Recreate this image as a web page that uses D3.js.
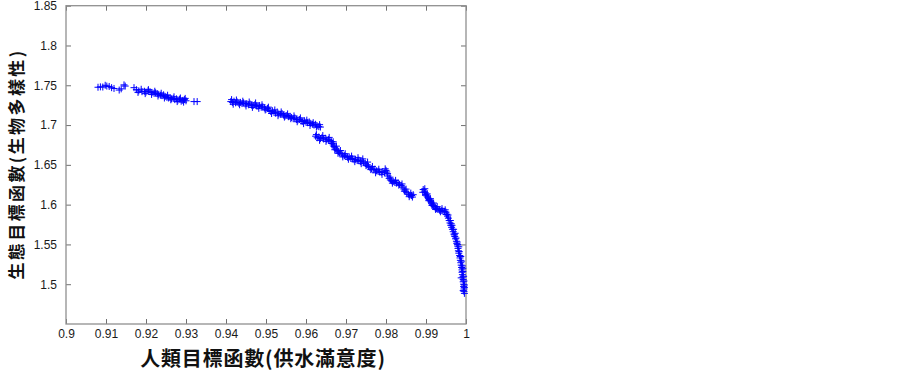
<!DOCTYPE html>
<html>
<head>
<meta charset="utf-8">
<script src="https://cdn.jsdelivr.net/npm/d3@7"></script>
<style>
  body { margin: 0; background: #fff; }
  .tick text { font-family: "Liberation Sans", Arial, sans-serif; font-size: 12px; fill: #1a1a1a; }
  .tick line { stroke: #707070; }
  .title { font-family: "Noto Sans CJK TC", sans-serif; font-weight: bold; fill: #111; }
</style>
</head>
<body>
<svg id="chart"></svg>
<script>
// tick labels
let xTicks = [0.9, 0.91, 0.92, 0.93, 0.94, 0.95, 0.96, 0.97, 0.98, 0.99, 1];
let yTicks = [1.5, 1.55, 1.6, 1.65, 1.7, 1.75, 1.8, 1.85];

// human objective (water supply satisfaction)
let supply = [
  0.9080, 0.9086, 0.9092, 0.9098, 0.9102, 0.9108, 0.9114, 0.9120, 0.9133, 0.9138, 0.9145, 0.9148,
  0.9170, 0.9176, 0.9182, 0.9190, 0.9196, 0.9200, 0.9205, 0.9210, 0.9215, 0.9220, 0.9224, 0.9228,
  0.9232, 0.9236, 0.9240, 0.9244, 0.9248, 0.9252, 0.9256, 0.9260, 0.9264, 0.9268, 0.9272, 0.9276,
  0.9280, 0.9284, 0.9288, 0.9292, 0.9296, 0.9300, 0.9320, 0.9328,
  0.9412, 0.9416, 0.9420, 0.9424, 0.9428, 0.9432, 0.9436, 0.9440, 0.9444, 0.9448, 0.9452, 0.9456,
  0.9460, 0.9464, 0.9468, 0.9472, 0.9476, 0.9480, 0.9484, 0.9488, 0.9492, 0.9496, 0.9500, 0.9504,
  0.9508, 0.9512, 0.9516, 0.9520, 0.9524, 0.9528, 0.9532, 0.9536, 0.9540, 0.9544, 0.9548, 0.9552,
  0.9556, 0.9560, 0.9564, 0.9568, 0.9572, 0.9576, 0.9580, 0.9584, 0.9588, 0.9592, 0.9596, 0.9600,
  0.9604, 0.9608, 0.9612, 0.9616, 0.9620, 0.9624, 0.9628, 0.9632, 0.9636,
  0.9624, 0.9628, 0.9632, 0.9636, 0.9640, 0.9644, 0.9648, 0.9652, 0.9656, 0.9660, 0.9664, 0.9666,
  0.9668, 0.9670, 0.9672, 0.9675, 0.9678, 0.9681, 0.9684, 0.9688, 0.9692, 0.9696, 0.9700, 0.9704,
  0.9708, 0.9712, 0.9716, 0.9720, 0.9724, 0.9728, 0.9732, 0.9736, 0.9740, 0.9744, 0.9748, 0.9752,
  0.9756, 0.9760, 0.9764, 0.9768, 0.9772, 0.9776, 0.9780, 0.9784, 0.9788, 0.9792, 0.9796, 0.9800,
  0.9802, 0.9805, 0.9808, 0.9811, 0.9814, 0.9818, 0.9822, 0.9826, 0.9830, 0.9834, 0.9838, 0.9842,
  0.9845, 0.9848, 0.9852, 0.9856, 0.9860, 0.9864, 0.9868,
  0.9893, 0.9896, 0.9898, 0.9900, 0.9902, 0.9904, 0.9906, 0.9908, 0.9910, 0.9912, 0.9914, 0.9916,
  0.9918, 0.9920, 0.9923, 0.9926, 0.9930, 0.9934, 0.9938, 0.9942, 0.9946, 0.9950, 0.9952, 0.9954,
  0.9956, 0.9958, 0.9960, 0.9962, 0.9964, 0.9966, 0.9968, 0.9970, 0.9972, 0.9974, 0.9976, 0.9977,
  0.9979, 0.9980, 0.9981, 0.9982, 0.9984, 0.9985, 0.9986, 0.9987, 0.9988, 0.9989, 0.9990, 0.9990,
  0.9991, 0.9992, 0.9993, 0.9993, 0.9994, 0.9994, 0.9995, 0.9995, 0.9996,
  0.9955, 0.9963, 0.9971, 0.9979, 0.9986, 0.9992, 0.9988, 0.9996,
  // points spread above / below the main band
  0.9180, 0.9188, 0.9198, 0.9206, 0.9214, 0.9222, 0.9230, 0.9238, 0.9246, 0.9254, 0.9262, 0.9270,
  0.9278, 0.9286, 0.9294, 0.9298,
  0.9414, 0.9418, 0.9426, 0.9434, 0.9442, 0.9450, 0.9458, 0.9466, 0.9474, 0.9482, 0.9490, 0.9498,
  0.9506, 0.9514, 0.9522, 0.9530, 0.9538, 0.9546, 0.9554, 0.9562, 0.9570, 0.9578, 0.9586, 0.9594,
  0.9602, 0.9610, 0.9618, 0.9626, 0.9634,
  0.9626, 0.9634, 0.9642, 0.9650, 0.9658, 0.9664, 0.9668, 0.9672, 0.9676, 0.9680, 0.9686, 0.9692,
  0.9698, 0.9706, 0.9714, 0.9722, 0.9730, 0.9738, 0.9742, 0.9750, 0.9754, 0.9762, 0.9766, 0.9774,
  0.9782, 0.9790, 0.9798, 0.9804, 0.9810, 0.9816, 0.9824, 0.9832, 0.9840, 0.9846, 0.9850, 0.9858,
  0.9862, 0.9866,
  0.9892, 0.9897, 0.9899, 0.9903, 0.9907, 0.9911, 0.9915, 0.9919, 0.9924, 0.9928, 0.9936, 0.9940,
  0.9948, 0.9951, 0.9961, 0.9965, 0.9969, 0.9973, 0.9975, 0.9978, 0.9982, 0.9983, 0.9987, 0.9989,
  0.9991, 0.9992, 0.9994, 0.9995, 0.9996, 0.9993
];

// ecological objective (biodiversity)
let biodiv = [
  1.7475, 1.7480, 1.7478, 1.7500, 1.7490, 1.7485, 1.7470, 1.7460, 1.7440, 1.7455, 1.7505, 1.7490,
  1.7470, 1.7445, 1.7430, 1.7420, 1.7425, 1.7415, 1.7430, 1.7420, 1.7410, 1.7400, 1.7405, 1.7395,
  1.7385, 1.7375, 1.7370, 1.7380, 1.7360, 1.7350, 1.7340, 1.7345, 1.7330, 1.7335, 1.7320, 1.7330,
  1.7315, 1.7325, 1.7300, 1.7310, 1.7320, 1.7305, 1.7295, 1.7295,
  1.7295, 1.7285, 1.7300, 1.7280, 1.7290, 1.7275, 1.7285, 1.7270, 1.7280, 1.7265, 1.7270, 1.7255,
  1.7265, 1.7250, 1.7245, 1.7255, 1.7240, 1.7235, 1.7245, 1.7225, 1.7230, 1.7215, 1.7200, 1.7210,
  1.7185, 1.7170, 1.7180, 1.7160, 1.7150, 1.7165, 1.7140, 1.7135, 1.7145, 1.7125, 1.7115, 1.7120,
  1.7105, 1.7110, 1.7095, 1.7080, 1.7090, 1.7070, 1.7065, 1.7070, 1.7050, 1.7045, 1.7055, 1.7035,
  1.7030, 1.7040, 1.7020, 1.7010, 1.7000, 1.7010, 1.6990, 1.6980, 1.6975,
  1.6860, 1.6840, 1.6850, 1.6830, 1.6845, 1.6825, 1.6835, 1.6815, 1.6820, 1.6805, 1.6790, 1.6770,
  1.6750, 1.6730, 1.6715, 1.6700, 1.6680, 1.6665, 1.6650, 1.6640, 1.6625, 1.6615, 1.6605, 1.6595,
  1.6600, 1.6580, 1.6575, 1.6565, 1.6570, 1.6555, 1.6560, 1.6540, 1.6550, 1.6535, 1.6520, 1.6500,
  1.6480, 1.6465, 1.6450, 1.6440, 1.6445, 1.6425, 1.6420, 1.6410, 1.6405, 1.6415, 1.6400, 1.6430,
  1.6410, 1.6360, 1.6330, 1.6310, 1.6300, 1.6290, 1.6280, 1.6270, 1.6275, 1.6255, 1.6240, 1.6220,
  1.6195, 1.6170, 1.6150, 1.6130, 1.6120, 1.6115, 1.6125,
  1.6190, 1.6170, 1.6150, 1.6130, 1.6110, 1.6095, 1.6080, 1.6065, 1.6050, 1.6035, 1.6020, 1.6005,
  1.5990, 1.5975, 1.5960, 1.5950, 1.5940, 1.5930, 1.5925, 1.5920, 1.5915, 1.5905, 1.5880, 1.5855,
  1.5830, 1.5800, 1.5770, 1.5740, 1.5715, 1.5690, 1.5660, 1.5630, 1.5600, 1.5570, 1.5540, 1.5510,
  1.5480, 1.5450, 1.5420, 1.5390, 1.5360, 1.5330, 1.5300, 1.5270, 1.5240, 1.5210, 1.5180, 1.5150,
  1.5120, 1.5090, 1.5060, 1.5030, 1.5000, 1.4970, 1.4940, 1.4910, 1.4885,
  1.5870, 1.5760, 1.5620, 1.5500, 1.5350, 1.5200, 1.5080, 1.4960,
  // points spread above / below the main band
  1.7410, 1.7450, 1.7395, 1.7445, 1.7385, 1.7425, 1.7365, 1.7400, 1.7340, 1.7375, 1.7318, 1.7355,
  1.7295, 1.7340, 1.7288, 1.7335,
  1.7320, 1.7262, 1.7315, 1.7255, 1.7300, 1.7240, 1.7290, 1.7222, 1.7278, 1.7210, 1.7255, 1.7190,
  1.7225, 1.7145, 1.7190, 1.7118, 1.7165, 1.7100, 1.7140, 1.7080, 1.7115, 1.7042, 1.7090, 1.7018,
  1.7062, 1.6995, 1.7030, 1.6975, 1.7005,
  1.6880, 1.6808, 1.6868, 1.6795, 1.6845, 1.6768, 1.6790, 1.6690, 1.6735, 1.6645, 1.6680, 1.6600,
  1.6640, 1.6570, 1.6610, 1.6540, 1.6590, 1.6515, 1.6575, 1.6490, 1.6535, 1.6440, 1.6480, 1.6400,
  1.6445, 1.6380, 1.6450, 1.6390, 1.6345, 1.6270, 1.6305, 1.6245, 1.6260, 1.6170, 1.6195, 1.6100,
  1.6145, 1.6095,
  1.6155, 1.6200, 1.6120, 1.6135, 1.6050, 1.6075, 1.5990, 1.6020, 1.5940, 1.5975, 1.5910, 1.5950,
  1.5935, 1.5875, 1.5800, 1.5740, 1.5690, 1.5640, 1.5580, 1.5530, 1.5470, 1.5410, 1.5350, 1.5290,
  1.5230, 1.5160, 1.5100, 1.5040, 1.4990, 1.4920
];

let width = 903;
let height = 371;
let padLeft = 66, padRight = 466, padTop = 5.7, padBottom = 324;

let svg = d3.select('#chart').attr('width', width).attr('height', height);

let xScale = d3.scaleLinear().domain([0.9, 1]).range([padLeft, padRight]);
let yScale = d3.scaleLinear().domain([1.45, 1.85]).range([padBottom, padTop]);

let fmt = d => String(+d.toFixed(2));

// axes, ticks pointing inside like matlab
svg.append('g')
  .attr('transform', 'translate(0,' + padBottom + ')')
  .call(d3.axisBottom(xScale).tickValues(xTicks).tickFormat(fmt).tickSizeInner(-5).tickSizeOuter(0).tickPadding(5))
  .call(g => g.select('.domain').remove());
svg.append('g')
  .attr('transform', 'translate(0,' + padTop + ')')
  .call(d3.axisTop(xScale).tickValues(xTicks).tickFormat('').tickSizeInner(-5).tickSizeOuter(0))
  .call(g => g.select('.domain').remove());
svg.append('g')
  .attr('transform', 'translate(' + padLeft + ',0)')
  .call(d3.axisLeft(yScale).tickValues(yTicks).tickFormat(fmt).tickSizeInner(-5).tickSizeOuter(0).tickPadding(9))
  .call(g => g.select('.domain').remove());
svg.append('g')
  .attr('transform', 'translate(' + padRight + ',0)')
  .call(d3.axisRight(yScale).tickValues(yTicks).tickFormat('').tickSizeInner(-5).tickSizeOuter(0))
  .call(g => g.select('.domain').remove());

// frame
svg.append('rect')
  .attr('x', padLeft)
  .attr('y', padTop)
  .attr('width', padRight - padLeft)
  .attr('height', padBottom - padTop)
  .attr('fill', 'none')
  .attr('stroke', '#909090')
  .attr('stroke-width', 1.3);

// plus markers
svg.append('g')
  .selectAll('path')
  .data(supply.map((s, i) => [s, biodiv[i]]))
  .enter()
  .append('path')
  .attr('transform', d => 'translate(' + xScale(d[0]) + ',' + yScale(d[1]) + ')')
  .attr('d', 'M-3.5,0H3.5M0,-3.5V3.5')
  .attr('stroke', '#0000ff')
  .attr('stroke-width', 1)
  .attr('fill', 'none');

// titles
svg.append('text')
  .attr('class', 'title')
  .attr('x', 263)
  .attr('y', 366)
  .attr('text-anchor', 'middle')
  .style('font-size', '20px')
  .style('letter-spacing', '0.8px')
  .text('人類目標函數(供水滿意度)');

svg.append('text')
  .attr('class', 'title')
  .attr('transform', 'translate(23,164) rotate(-90)')
  .attr('text-anchor', 'middle')
  .style('font-size', '17px')
  .style('letter-spacing', '2.4px')
  .text('生態目標函數(生物多樣性)');
</script>
</body>
</html>
